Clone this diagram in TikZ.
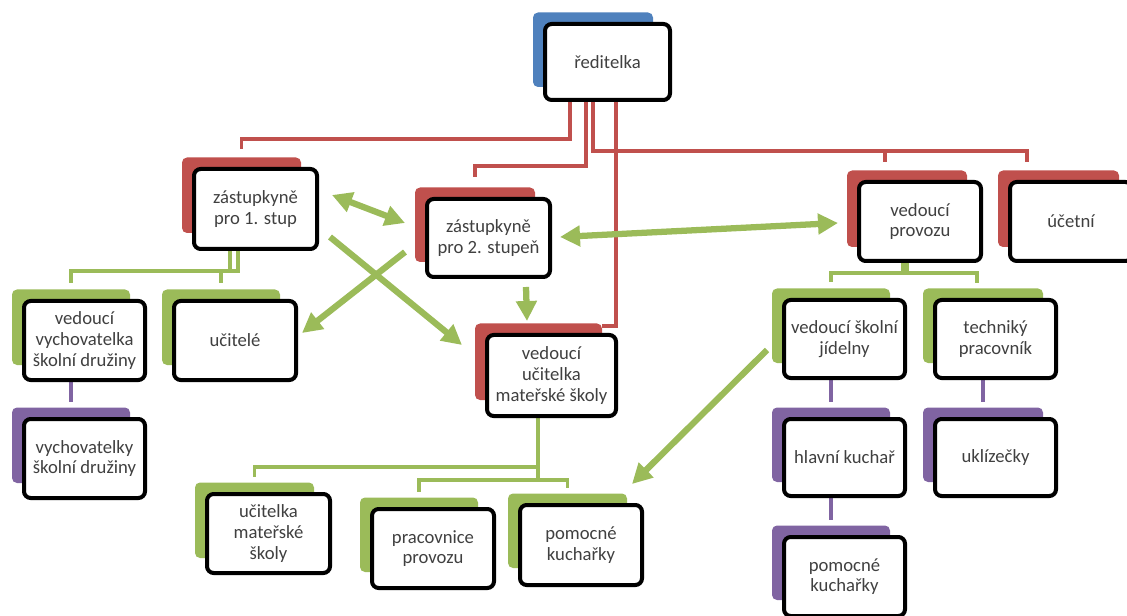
\documentclass[tikz,border=0pt]{standalone}
\usepackage{fontspec}
\setmainfont{Carlito}
\usetikzlibrary{arrows.meta,calc}
\definecolor{ored}{HTML}{C0504D}
\definecolor{ogreen}{HTML}{9BBB59}
\definecolor{oblue}{HTML}{4F81BD}
\definecolor{opurple}{HTML}{8064A2}
\definecolor{otext}{HTML}{404040}
\pgfdeclarelayer{connectors}
\pgfsetlayers{connectors,main}
\tikzset{
  bgbox/.style={draw=none, rounded corners=3.75pt, inner sep=0pt, outer sep=0pt},
  wbox/.style={draw=black, fill=white, line width=3pt, rounded corners=5pt, inner sep=0pt, outer sep=0pt,
    text=otext, align=center, font=\fontsize{14}{15.5}\selectfont},
  rc/.style={draw=ored, line width=2.7pt},
  gc/.style={draw=ogreen, line width=2.7pt},
  pc/.style={draw=opurple, line width=2.9pt},
  garrow/.style={draw=ogreen, line width=4.7pt, -{Triangle[length=15pt,width=15pt]}},
  gdarrow/.style={draw=ogreen, line width=4.7pt, {Triangle[length=15pt,width=15pt]}-{Triangle[length=15pt,width=15pt]}},
}
\newcommand\orgbox[9]{%
  \node[bgbox, fill=#2, minimum width={(#7-#3+10)*0.75pt}, minimum height={(#8-#4+9.5)*0.75pt}, anchor=north west] (#1-bg) at (#3-10,#4-9.5) {};
  \node[wbox, minimum width={(#5-#3-4)*0.75pt}, minimum height={(#6-#4-4)*0.75pt}] (#1) at ({(#3+#5)/2},{(#4+#6)/2}) {#9};
}
\begin{document}
\begin{tikzpicture}[x=0.75pt, y=-0.75pt]
\useasboundingbox (0,0) rectangle (1127,616);
% boxes
\orgbox{red}{oblue}{543}{22}{672}{102}{653}{87}{ředitelka}
\orgbox{zast1}{ored}{192}{167}{319}{251}{301}{233}{zástupkyně\\pro 1. stup}
\orgbox{zast2}{ored}{425}{197}{552}{279}{535}{262}{zástupkyně\\pro 2. stupeň}
\orgbox{vprov}{ored}{857}{180}{983}{263}{967}{247}{vedoucí\\provozu}
\orgbox{ucetni}{ored}{1008}{180}{1134}{263}{1119}{247}{účetní}
\orgbox{vucMS}{ored}{485}{333}{618}{418}{602}{400}{vedoucí\\učitelka\\mateřské školy}
\orgbox{vvych}{ogreen}{22}{299}{147}{382}{130}{365}{vedoucí\\vychovatelka\\školní družiny}
\orgbox{ucitele}{ogreen}{172}{299}{298}{382}{280}{365}{učitelé}
\orgbox{vych}{opurple}{22}{417}{147}{500}{130}{483}{vychovatelky\\školní družiny}
\orgbox{ucMS}{ogreen}{205}{492}{332}{575}{314}{558}{učitelka\\mateřské\\školy}
\orgbox{prac}{ogreen}{370}{507}{496}{590}{478}{572}{pracovnice\\provozu}
\orgbox{pomKa}{ogreen}{518}{503}{644}{587}{627}{568}{pomocné\\kuchařky}
\orgbox{vjid}{ogreen}{782}{298}{907}{380}{890}{363}{vedoucí školní\\jídelny}
\orgbox{tech}{ogreen}{933}{298}{1058}{380}{1043}{363}{techniký\\pracovník}
\orgbox{hlK}{opurple}{782}{417}{907}{498}{890}{482}{hlavní kuchař}
\orgbox{uklid}{opurple}{933}{417}{1058}{498}{1043}{482}{uklízečky}
\orgbox{pomKb}{opurple}{782}{535}{907}{618}{890}{600}{pomocné\\kuchařky}
% junction coordinates
\coordinate (r1) at (570,139);
\coordinate (r2) at (586,166);
\coordinate (r3) at (593,151);
\coordinate (r3b) at (885,151);
\coordinate (r3c) at (1027,151);
\coordinate (r4) at (616,326);
\coordinate (gz1) at (238,271);
\coordinate (gz2) at (230,271);
\coordinate (gp1) at (903,273);
\coordinate (gp2) at (907,273);
\coordinate (gp2e) at (977,283);
\coordinate (gm1) at (538,467);
\coordinate (gm2) at (538,480);
\begin{pgfonlayer}{connectors}
% red connectors from ředitelka
\draw[rc] (red.south -| r1) -- (r1) -| ($(zast1-bg.north)+(0,-8)$);
\draw[rc] (red.south -| r2) -- (r2) -| ($(zast2-bg.north)+(0,-10)$);
\draw[rc] (red.south -| r3) -- (r3) -- (r3c) -- ++(0,11);
\draw[rc] (r3b) -- ++(0,11);
\draw[rc] (red.south -| r4) -- (r4) -- (r4 -| vucMS-bg.east);
% green connectors
\draw[gc] (zast1.south -| gz1) -- (gz1) -| ($(vvych-bg.north)+(0,-6)$);
\draw[gc] (zast1.south -| gz2) -- (gz2) -| ($(ucitele-bg.north)+(0,-6)$);
\draw[gc] (vprov.south -| gp1) -- (gp1) -| ($(vjid-bg.north)+(0,-6)$);
\draw[gc] (vprov.south -| gp2) -- (gp2) -| (gp2e);
\draw[gc] (vucMS.south -| gm1) -- (gm1) -| ($(ucMS-bg.north)+(0,-6)$);
\draw[gc] (vucMS.south -| gm2) -- (gm2) -| ($(prac-bg.north)+(0,-5.5)$);
\draw[gc] (gm2) -| ($(pomKa-bg.north)+(0,-5.5)$);
% purple connectors
\draw[pc] (vvych.south -| vvych-bg.north) -- ($(vych-bg.north)+(0,-6)$);
\draw[pc] (vjid.south -| vjid-bg.north) -- ($(hlK-bg.north)+(0,-6)$);
\draw[pc] (hlK.south -| hlK-bg.north) -- ($(pomKb-bg.north)+(0,-6)$);
\draw[pc] (tech.south -| tech-bg.north) -- ($(uklid-bg.north)+(0,-6)$);
\end{pgfonlayer}
% green arrows
\coordinate (a1s) at (332,195); \coordinate (a1e) at (405,223);
\coordinate (a2s) at (560,237); \coordinate (a2e) at (838,223);
\coordinate (a3s) at (330,237); \coordinate (a3e) at (462,345);
\coordinate (a4s) at (405,252); \coordinate (a4e) at (302,333);
\coordinate (a5s) at (526,287); \coordinate (a5e) at (527,321);
\coordinate (a6s) at (767,350); \coordinate (a6e) at (632,484);
\draw[gdarrow] (a1s) -- (a1e);
\draw[gdarrow] (a2s) -- (a2e);
\draw[garrow] (a3s) -- (a3e);
\draw[garrow] (a4s) -- (a4e);
\draw[garrow] (a5s) -- (a5e);
\draw[garrow] (a6s) -- (a6e);
\end{tikzpicture}
\end{document}
